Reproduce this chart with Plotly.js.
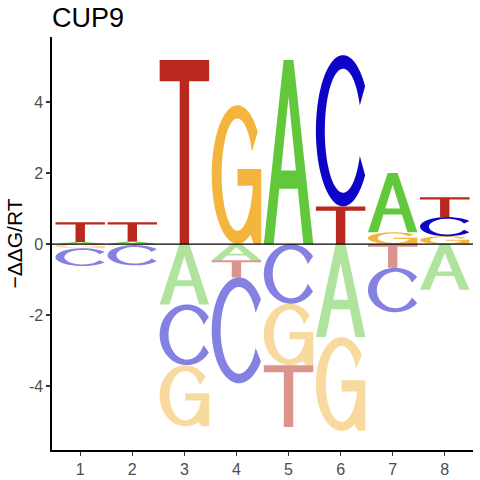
<!DOCTYPE html>
<html>
<head>
<meta charset="utf-8">
<script src="https://cdn.plot.ly/plotly-3.0.1.min.js"></script>
<style>html,body{margin:0;padding:0;background:#fff;}#chart{width:480px;height:480px;}</style>
</head>
<body>
<div id="chart"></div>
<script>
// ---- data ----
const positions = [1, 2, 3, 4, 5, 6, 7, 8];
const xTickText = ['1', '2', '3', '4', '5', '6', '7', '8'];
const yTickVals = [-4, -2, 0, 2, 4];
const yTickText = ['-4', '-2', '0', '2', '4'];
const bases = ['A', 'C', 'G', 'T'];
const valA = [0.06, 0.07, -1.70, -0.46, 5.18, -2.62, 1.67, -1.29];
const valC = [-0.50, -0.57, -1.71, -2.98, -1.68, 4.26, -1.25, 0.54];
const valG = [-0.12, -0.03, -1.72, 3.91, -1.73, -2.64, 0.33, 0.22];
const valT = [0.555, 0.545, 5.18, -0.48, -1.74, 1.06, -0.67, 0.56];
const values = {A: valA, C: valC, G: valG, T: valT};

// ---- style ----
const baseRGB = {A: [97, 200, 60], C: [12, 4, 198], G: [244, 181, 62], T: [186, 41, 30]};
const halfWidth = 0.475;

// ---- glyph outlines in a unit box (u across, v up) ----
function arc(cx, cy, rx, ry, a0, a1, n) {
  const pts = [];
  for (let k = 0; k <= n; k++) {
    const a = (a0 + (a1 - a0) * k / n) * Math.PI / 180;
    pts.push([cx + rx * Math.cos(a), cy + ry * Math.sin(a)]);
  }
  return pts;
}
function glyph(letter) {
  if (letter === 'T') {
    return [[[0, 1], [1, 1], [1, 0.885], [0.595, 0.885], [0.595, 0], [0.405, 0], [0.405, 0.885], [0, 0.885]]];
  }
  if (letter === 'A') {
    return [
      [[0, 0], [0.4, 1], [0.6, 1], [1, 0], [0.8, 0], [0.6875, 0.30], [0.3125, 0.30], [0.2, 0]],
      [[0.35, 0.40], [0.5, 0.8], [0.65, 0.40]]
    ];
  }
  if (letter === 'C') {
    const outer = arc(0.55, 0.5, 0.55, 0.5, 36, 324, 60);
    const inner = arc(0.55, 0.5, 0.37, 0.41, 336, 24, 60);
    return [outer.concat(inner)];
  }
  // G
  const outer = arc(0.52, 0.5, 0.52, 0.5, 38, 300, 60);
  const bar = [[0.85, 0], [1, 0], [1, 0.54], [0.52, 0.54], [0.52, 0.42], [0.83, 0.42]];
  const inner = arc(0.52, 0.5, 0.32, 0.405, -20, -336, 60);
  return [outer.concat(bar, inner)];
}

function letterPath(letter, xc, yLow, yHigh) {
  return glyph(letter).map(ring =>
    'M' + ring.map(p => {
      const X = xc + (p[0] - 0.5) * 2 * halfWidth;
      const Y = yLow + p[1] * (yHigh - yLow);
      return X.toFixed(4) + ',' + Y.toFixed(4);
    }).join(' L') + ' Z'
  ).join(' ');
}

const shapes = [];
positions.forEach((xc, i) => {
  const entries = bases.map(b => ({b: b, v: values[b][i]})).filter(e => e.v !== 0);
  const pos = entries.filter(e => e.v > 0).sort((a, b) => a.v - b.v);
  const neg = entries.filter(e => e.v < 0).sort((a, b) => b.v - a.v);
  let y = 0;
  pos.forEach(e => {
    const c = baseRGB[e.b];
    shapes.push({type: 'path', xref: 'x', yref: 'y', path: letterPath(e.b, xc, y, y + e.v),
      fillcolor: 'rgb(' + c.join(',') + ')', fillrule: 'evenodd', line: {width: 0}, layer: 'above'});
    y += e.v;
  });
  y = 0;
  neg.forEach(e => {
    const c = baseRGB[e.b];
    shapes.push({type: 'path', xref: 'x', yref: 'y', path: letterPath(e.b, xc, y + e.v, y),
      fillcolor: 'rgba(' + c.join(',') + ',0.5)', fillrule: 'evenodd', line: {width: 0}, layer: 'above'});
    y += e.v;
  });
});
// zero line
shapes.push({type: 'line', xref: 'paper', yref: 'y', x0: 0, x1: 1, y0: 0, y1: 0,
  line: {color: 'black', width: 1.2}, layer: 'above'});

const font = 'Liberation Sans, Arial, Helvetica, sans-serif';
const layout = {
  width: 480, height: 480,
  margin: {l: 52, r: 7, t: 37, b: 30, pad: 0},
  paper_bgcolor: 'white', plot_bgcolor: 'white',
  showlegend: false,
  font: {family: font},
  title: {text: 'CUP9', font: {family: font, size: 27, color: 'black'},
    x: 0, xref: 'paper', xanchor: 'left', y: 0.964, yref: 'container', yanchor: 'middle'},
  xaxis: {range: [0.458, 8.542], tickvals: positions, ticktext: xTickText,
    showgrid: false, zeroline: false, showline: true, linecolor: 'black', linewidth: 1.6,
    ticks: 'outside', ticklen: 4, tickwidth: 1.3, tickcolor: '#333333',
    tickfont: {family: font, size: 16, color: '#4D4D4D'}, fixedrange: true},
  yaxis: {range: [-5.80, 5.83], tickvals: yTickVals, ticktext: yTickText,
    showgrid: false, zeroline: false, showline: true, linecolor: 'black', linewidth: 1.6,
    ticks: 'outside', ticklen: 4, tickwidth: 1.3, tickcolor: '#333333',
    tickfont: {family: font, size: 16, color: '#4D4D4D'}, fixedrange: true,
    title: {text: '\u2212\u0394\u0394G/RT', font: {family: font, size: 21, color: 'black'}, standoff: 0}},
  shapes: shapes
};
Plotly.newPlot('chart', [], layout, {staticPlot: true, displayModeBar: false});
</script>
</body>
</html>
